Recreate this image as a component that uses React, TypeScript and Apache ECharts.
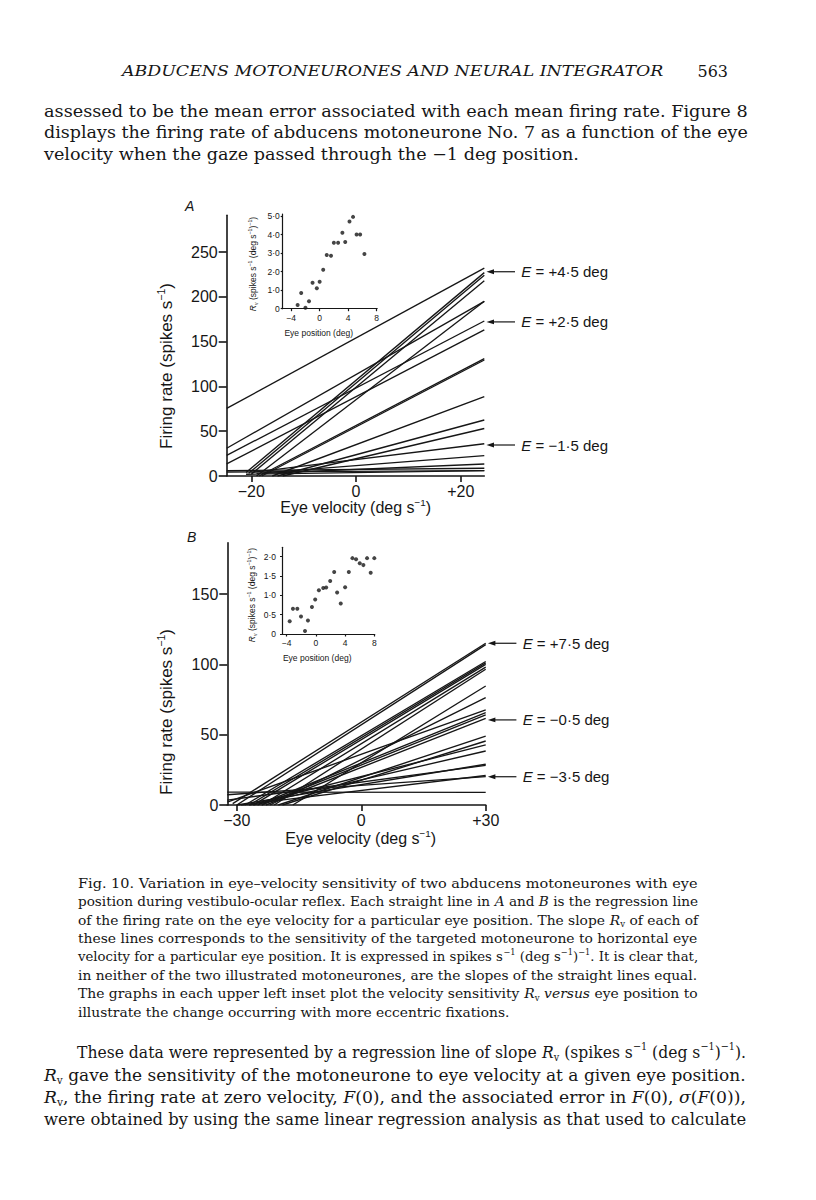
import React, { useEffect, useRef } from 'react';
import * as echarts from 'echarts';

const W = 816;
const H = 1200;
const INK = '#161616';
const SANS = '"Liberation Sans", Arial, sans-serif';
const SERIF = '"DejaVu Serif", serif';

// ---------- Panel A : regression lines (firing rate vs eye velocity) ----------
const A_VEL_END = 24.5;
const aStartVel = [-24.7, -24.7, -24.7, -24.7, -21, -20.5, -20, -19, -18.5, -18, -16, -15, -14, -20, -19, -18, -24.7, -24.7, -21];
const aStartRate = [75.5, 31, 23, 13.5, 4, 3, 2, 0, 0, 0, 0, 0, 0, 4, 3, 3, 6, 4.5, 2];
const aEndRate = [232, 195, 173, 163, 227, 224, 218, 195, 131, 129.5, 88.5, 62.5, 53, 36, 22.7, 13.4, 8.6, 6, 6];
const aVelTicks = [-20, 0, 20];
const aRateTicks = [0, 50, 100, 150, 200, 250];

// Panel A inset : Rv vs eye position
const aInsetPos = [-3.1, -2.6, -2.0, -1.5, -1.0, -0.4, 0.0, 0.5, 1.0, 1.6, 2.0, 2.6, 3.2, 3.6, 4.2, 4.7, 5.2, 5.7, 6.3];
const aInsetRv = [0.2, 0.85, 0.05, 0.4, 1.4, 1.1, 1.45, 2.1, 2.9, 2.85, 3.55, 3.55, 4.1, 3.6, 4.7, 4.95, 4.0, 4.0, 2.95];
const aInsetRvTicks = [0, 1, 2, 3, 4, 5];

// ---------- Panel B ----------
const B_VEL_END = 30;
const bStartVel = [-32.3, -32.3, -32.3, -31, -30, -28, -27, -26, -24, -21, -16.5, -22, -32.3, -25, -24, -23, -20, -19, -27, -26, -30, -29];
const bStartRate = [9.2, 7.3, 3.5, 1, 0, 0, 0, 0, 0, 0, 0, 0, 2.1, 0, 0, 0, 0, 0, 0, 0, 0, 0];
const bEndRate = [9, 20.2, 28.2, 115, 114, 102, 101, 100, 98, 96.5, 84.6, 76.3, 67.6, 65.7, 64, 61.6, 49, 45.5, 42.7, 38.4, 29, 21];
const bVelTicks = [-30, 0, 30];
const bRateTicks = [0, 50, 100, 150];

const bInsetPos = [-3.6, -3.15, -2.55, -2.05, -1.5, -1.1, -0.55, -0.1, 0.4, 1.0, 1.4, 1.95, 2.5, 2.9, 3.4, 4.0, 4.5, 5.0, 5.5, 6.0, 6.5, 7.0, 7.5, 8.0];
const bInsetRv = [0.33, 0.65, 0.65, 0.45, 0.08, 0.35, 0.7, 0.89, 1.13, 1.19, 1.2, 1.37, 1.6, 1.07, 0.79, 1.21, 1.6, 1.96, 1.93, 1.83, 1.78, 1.96, 1.58, 1.96];
const bInsetRvTicks = [0, 0.5, 1, 1.5, 2];

const insetPosTicks = [-4, 0, 4, 8];

// Annotated eye positions (arrows at right)
const aArrowRate = [228, 172, 34.6];
const aArrowLabel = ['+4·5', '+2·5', '−1·5'];
const bArrowRate = [115, 60.5, 20.1];
const bArrowLabel = ['+7·5', '−0·5', '−3·5'];

// ---------- Page text ----------
const headerText = '{i|ABDUCENS MOTONEURONES AND NEURAL INTEGRATOR}';
const pageNumber = '563';
const topParagraph = [
  'assessed to be the mean error associated with each mean firing rate. Figure 8',
  'displays the firing rate of abducens motoneurone No. 7 as a function of the eye',
  'velocity when the gaze passed through the −1 deg position.',
];
const captionLines = [
  'Fig. 10. Variation in eye–velocity sensitivity of two abducens motoneurones with eye',
  'position during vestibulo-ocular reflex. Each straight line in {i|A} and {i|B} is the regression line',
  'of the firing rate on the eye velocity for a particular eye position. The slope {i|R}{sub|v} of each of',
  'these lines corresponds to the sensitivity of the targeted motoneurone to horizontal eye',
  'velocity for a particular eye position. It is expressed in spikes s{sup|−1} (deg s{sup|−1}){sup|−1}. It is clear that,',
  'in neither of the two illustrated motoneurones, are the slopes of the straight lines equal.',
  'The graphs in each upper left inset plot the velocity sensitivity {i|R}{sub|v} {i|versus} eye position to',
  'illustrate the change occurring with more eccentric fixations.',
];
const bottomParagraph = [
  'These data were represented by a regression line of slope {i|R}{sub|v} (spikes s{sup|−1} (deg s{sup|−1}){sup|−1}).',
  '{i|R}{sub|v} gave the sensitivity of the motoneurone to eye velocity at a given eye position.',
  '{i|R}{sub|v}, the firing rate at zero velocity, {i|F}(0), and the associated error in {i|F}(0), {i|σ}({i|F}(0)),',
  'were obtained by using the same linear regression analysis as that used to calculate',
];

// ---------- text helpers ----------
type Seg = { k: string; t: string };
function parse(s: string): Seg[] {
  const out: Seg[] = [];
  const re = /\{(\w+)\|([^}]*)\}|([^{]+)/g;
  let m: RegExpExecArray | null;
  while ((m = re.exec(s))) {
    if (m[3] !== undefined) out.push({ k: 'n', t: m[3] });
    else out.push({ k: m[1], t: m[2] });
  }
  return out;
}
function richStyles(size: number, family: string) {
  const small = +(size * 0.62).toFixed(2);
  return {
    n: { fontSize: size, fontFamily: family, lineHeight: size * 1.25, fill: INK },
    i: { fontSize: size, fontFamily: family, fontStyle: 'italic', lineHeight: size * 1.25, fill: INK },
    sub: { fontSize: small, fontFamily: family, verticalAlign: 'bottom', lineHeight: small, fill: INK },
    sup: { fontSize: small, fontFamily: family, verticalAlign: 'top', lineHeight: small, fill: INK },
  };
}
let ctx: CanvasRenderingContext2D | null = null;
function measure(s: string, size: number, family: string): number {
  if (!ctx) ctx = document.createElement('canvas').getContext('2d');
  if (!ctx) return 0;
  const st: any = richStyles(size, family);
  let w = 0;
  for (const seg of parse(s)) {
    const sty = st[seg.k] || st.n;
    ctx.font = `${sty.fontStyle || 'normal'} ${sty.fontSize}px ${family}`;
    w += ctx.measureText(seg.t).width;
  }
  return w;
}
function toRich(s: string) {
  return parse(s).map(({ k, t }) => `{${k}|${t}}`).join('');
}
function textEl(s: string, x: number, y: number, size: number, family: string, o: any = {}) {
  return {
    type: 'text',
    x,
    y,
    scaleX: o.scaleX ?? 1,
    rotation: o.rotation ?? 0,
    silent: true,
    z: 10,
    style: {
      text: toRich(s),
      rich: richStyles(size, family),
      fontSize: size,
      fontFamily: family,
      fill: INK,
      textAlign: o.align ?? 'left',
      textVerticalAlign: 'middle',
    },
  };
}
function paragraph(lines: string[], o: { left: number; right: number; y0: number; dy: number; size: number; indent?: number; lastFree?: boolean }) {
  const scales: number[] = [];
  const info = lines.map((s, i) => {
    const x = o.left + (i === 0 ? o.indent || 0 : 0);
    const w = measure(s, o.size, SERIF);
    const free = o.lastFree && i === lines.length - 1;
    const sc = w > 0 ? (o.right - x) / w : 1;
    if (!free) scales.push(sc);
    return { s, x, free, sc };
  });
  const mean = scales.length ? scales.reduce((a, b) => a + b, 0) / scales.length : 1;
  return info.map((l, i) => textEl(l.s, l.x, o.y0 + i * o.dy, o.size, SERIF, { scaleX: l.free ? mean : l.sc }));
}

const fmtSigned = (v: number) => (v > 0 ? `+${v}` : v < 0 ? `−${-v}` : '0');
const fmtMinus = (v: number) => (v < 0 ? `−${-v}` : `${v}`);
const fmtInt = (v: number) => `${v}`;
const fmtDot = (v: number) => (v === 0 ? '0' : v.toFixed(1).replace('.', '·'));

function axis(gi: number, min: number, max: number, ticks: number[], fmt: any, fs: number, margin: number, tickLen: number, lw: number) {
  return {
    type: 'value',
    gridIndex: gi,
    min,
    max,
    axisLine: { show: true, onZero: false, lineStyle: { color: INK, width: lw } },
    axisTick: { show: true, inside: false, length: tickLen, customValues: ticks, lineStyle: { color: INK, width: lw } },
    axisLabel: { show: true, customValues: ticks, formatter: fmt, fontSize: fs, fontFamily: SANS, color: INK, margin },
    splitLine: { show: false },
  };
}

function lineSeries(gi: number, x0: number, y0: number, x1: number, y1: number) {
  return {
    type: 'line',
    xAxisIndex: gi,
    yAxisIndex: gi,
    data: [[x0, y0], [x1, y1]],
    symbol: 'none',
    showSymbol: false,
    silent: true,
    lineStyle: { color: INK, width: 1.35 },
    z: 3,
  };
}

function buildOption() {
  const series: any[] = [];
  aStartVel.forEach((v, i) => series.push(lineSeries(0, v, aStartRate[i], A_VEL_END, aEndRate[i])));
  bStartVel.forEach((v, i) => series.push(lineSeries(2, v, bStartRate[i], B_VEL_END, bEndRate[i])));
  series.push({
    type: 'scatter', xAxisIndex: 1, yAxisIndex: 1, symbolSize: 4, silent: true,
    itemStyle: { color: INK }, data: aInsetPos.map((p, i) => [p, aInsetRv[i]]),
  });
  series.push({
    type: 'scatter', xAxisIndex: 3, yAxisIndex: 3, symbolSize: 4, silent: true,
    itemStyle: { color: INK }, data: bInsetPos.map((p, i) => [p, bInsetRv[i]]),
  });
  return {
    animation: false,
    backgroundColor: '#ffffff',
    grid: [
      { left: 226.7, top: 215.3, width: 257.6, height: 260.7 },
      { left: 282.7, top: 214.1, width: 94.5, height: 94.6 },
      { left: 227.3, top: 542.7, width: 258.4, height: 262.3 },
      { left: 282, top: 547.3, width: 92.7, height: 86.7 },
    ],
    xAxis: [
      axis(0, -24.7, A_VEL_END, aVelTicks, fmtSigned, 16, 7, 6, 1.6),
      axis(1, -5.2, 8.1, insetPosTicks, fmtMinus, 8.5, 5, 2.5, 1.2),
      axis(2, -32.3, B_VEL_END, bVelTicks, fmtSigned, 16, 7, 6, 1.6),
      axis(3, -4.65, 8.05, insetPosTicks, fmtMinus, 8.5, 4, 2.5, 1.2),
    ],
    yAxis: [
      axis(0, 0, 291, aRateTicks, fmtInt, 16, 9, 8, 1.6),
      axis(1, 0, 5.1, aInsetRvTicks, fmtDot, 8.5, 3, 2, 1.2),
      axis(2, 0, 186.5, bRateTicks, fmtInt, 16, 9, 8, 1.6),
      axis(3, 0, 2.24, bInsetRvTicks, fmtDot, 8.5, 6, 2, 1.2),
    ],
    series,
  };
}

function arrowWithLabel(chart: any, gi: number, velEnd: number, rate: number, label: string) {
  const p = chart.convertToPixel({ gridIndex: gi }, [velEnd, rate]);
  const x = p[0];
  const y = p[1];
  const tip = x + 2.2;
  return [
    { type: 'polygon', silent: true, z: 10, shape: { points: [[tip, y], [tip + 7.5, y - 2.4], [tip + 7.5, y + 2.4]] }, style: { fill: INK } },
    { type: 'line', silent: true, z: 10, shape: { x1: tip + 5, y1: y, x2: tip + 28.5, y2: y }, style: { stroke: INK, lineWidth: 1.2 } },
    textEl(`{i|E} = ${label} deg`, x + 37, y, 15, SANS),
  ];
}

function buildGraphics(chart: any) {
  const g: any[] = [];
  // running head
  const headW = measure(headerText, 15.5, SERIF);
  g.push(textEl(headerText, 122, 71, 15.5, SERIF, { scaleX: headW ? (664 - 122) / headW : 1 }));
  g.push(textEl(pageNumber, 728, 71, 16, SERIF, { align: 'right' }));
  g.push(...paragraph(topParagraph, { left: 44, right: 748, y0: 111, dy: 21.5, size: 16.5, lastFree: true }));
  g.push(...paragraph(captionLines, { left: 78, right: 698, y0: 883, dy: 18.4, size: 13.5, lastFree: true }));
  g.push(...paragraph(bottomParagraph, { left: 44, right: 746, y0: 1052, dy: 22.6, size: 16.5, indent: 33 }));

  // panel letters
  g.push(textEl('{i|A}', 185, 206, 14, SANS));
  g.push(textEl('{i|B}', 187, 537, 14, SANS));

  // axis titles
  g.push(textEl('Firing rate (spikes s{sup|−1})', 166, 366, 17, SANS, { align: 'center', rotation: Math.PI / 2 }));
  g.push(textEl('Firing rate (spikes s{sup|−1})', 166, 712, 17, SANS, { align: 'center', rotation: Math.PI / 2 }));
  g.push(textEl('Eye velocity (deg s{sup|−1})', 355.7, 507, 16, SANS, { align: 'center' }));
  g.push(textEl('Eye velocity (deg s{sup|−1})', 360.7, 838, 16, SANS, { align: 'center' }));
  g.push(textEl('{i|R}{sub|v} (spikes s{sup|−1} (deg s{sup|−1}){sup|−1})', 253, 264, 8.5, SANS, { align: 'center', rotation: Math.PI / 2 }));
  g.push(textEl('{i|R}{sub|v} (spikes s{sup|−1} (deg s{sup|−1}){sup|−1})', 252, 595, 8.5, SANS, { align: 'center', rotation: Math.PI / 2 }));
  g.push(textEl('Eye position (deg)', 318.7, 333.3, 8.5, SANS, { align: 'center' }));
  g.push(textEl('Eye position (deg)', 317.2, 658.3, 8.5, SANS, { align: 'center' }));

  aArrowRate.forEach((r, i) => g.push(...arrowWithLabel(chart, 0, A_VEL_END, r, aArrowLabel[i])));
  bArrowRate.forEach((r, i) => g.push(...arrowWithLabel(chart, 2, B_VEL_END, r, bArrowLabel[i])));
  return g;
}

export default function App() {
  const ref = useRef<HTMLDivElement>(null);
  useEffect(() => {
    const el = ref.current;
    if (!el) return;
    const chart = echarts.init(el, null, { renderer: 'svg', width: W, height: H });
    chart.setOption(buildOption());
    chart.setOption({ graphic: buildGraphics(chart) });
    return () => chart.dispose();
  }, []);
  return <div ref={ref} style={{ position: 'absolute', left: 0, top: 0, width: W, height: H, background: '#fff' }} />;
}
